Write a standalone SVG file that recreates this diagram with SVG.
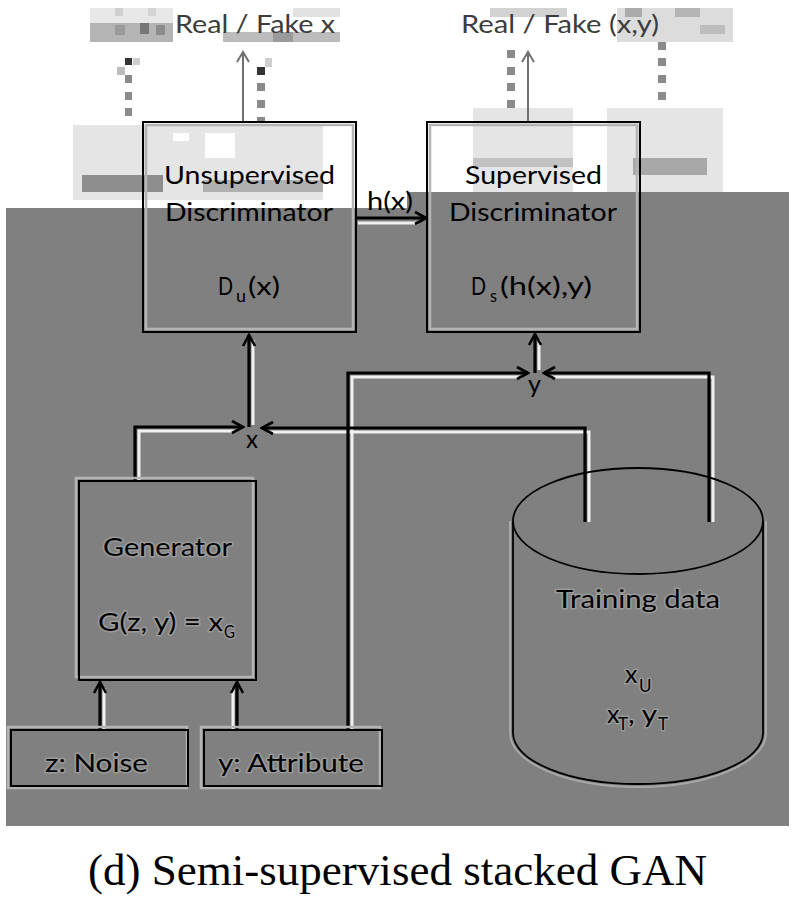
<svg xmlns="http://www.w3.org/2000/svg" width="792" height="898" viewBox="0 0 792 898">
<style>
  .lbl{font-family:Lato,"Open Sans","Liberation Sans",sans-serif;font-size:25px;fill:#000}
  .top{fill:#3c3c3c}
  .sub{font-size:17px}
  .halo{stroke:#9a9a9a;stroke-width:3;paint-order:stroke;stroke-linejoin:round}
  .box{fill:none;stroke:#000;stroke-width:2}
  .boxhalo{fill:none;stroke:#b4b4b4;stroke-width:2.5}
  .wire{fill:none;stroke:#000;stroke-width:3.2}
  .shadow{fill:none;stroke:#f0f0f0;stroke-width:3}
  .thin{fill:none;stroke:#707070;stroke-width:2}
  .cap{font-family:"Liberation Serif","DejaVu Serif",serif;font-size:44px;fill:#000}
</style>
<defs>
  <marker id="ah" markerUnits="userSpaceOnUse" markerWidth="16" markerHeight="16" viewBox="0 0 16 16" refX="14" refY="8" orient="auto">
    <path d="M3,2 L14,8 L3,14" fill="none" stroke="#000" stroke-width="2.6"/>
  </marker>
  <marker id="ahg" markerUnits="userSpaceOnUse" markerWidth="16" markerHeight="16" viewBox="0 0 16 16" refX="14" refY="8" orient="auto">
    <path d="M4,2 L14,8 L4,14" fill="none" stroke="#707070" stroke-width="2"/>
  </marker>
</defs>

<rect x="0" y="0" width="792" height="898" fill="#fff"/>

<!-- pixel mosaic artefacts in the white area -->
<g id="mosaic">
  <rect x="90" y="8" width="83" height="15" fill="#e8e8e8"/>
  <rect x="115" y="8" width="8" height="8" fill="#cfcfcf"/>
  <rect x="148" y="8" width="8" height="8" fill="#d4d4d4"/>
  <rect x="90" y="23" width="83" height="19" fill="#b4b4b4"/>
  <rect x="115" y="25" width="10" height="10" fill="#999"/>
  <rect x="140" y="23" width="9" height="11" fill="#777"/>
  <rect x="156" y="25" width="9" height="10" fill="#8c8c8c"/>
  <rect x="223" y="32" width="117" height="10" fill="#bcbcbc"/>
  <rect x="273" y="32" width="20" height="10" fill="#9a9a9a"/>
  <rect x="293" y="8" width="47" height="9" fill="#e2e2e2"/>
  <rect x="125" y="58" width="7" height="7" fill="#333"/>
  <rect x="133" y="58" width="7" height="7" fill="#cfcfcf"/>
  <rect x="117" y="67" width="8" height="8" fill="#bdbdbd"/>
  <rect x="125" y="75" width="7" height="8" fill="#8a8a8a"/>
  <rect x="125" y="92" width="7" height="8" fill="#8a8a8a"/>
  <rect x="125" y="108" width="7" height="8" fill="#8a8a8a"/>
  <rect x="257" y="67" width="8" height="8" fill="#333"/>
  <rect x="265" y="58" width="7" height="9" fill="#cfcfcf"/>
  <rect x="257" y="83" width="8" height="8" fill="#8a8a8a"/>
  <rect x="257" y="100" width="8" height="8" fill="#8a8a8a"/>
  <rect x="257" y="117" width="8" height="6" fill="#8a8a8a"/>
  <rect x="73" y="125" width="250" height="75" fill="#e5e5e5"/>
  <rect x="173" y="133" width="16" height="8" fill="#fff"/>
  <rect x="205" y="133" width="30" height="25" fill="#fff"/>
  <rect x="82" y="175" width="81" height="17" fill="#8e8e8e"/>
  <rect x="203" y="180" width="120" height="12" fill="#b0b0b0"/>
  <rect x="490" y="8" width="77" height="9" fill="#d2d2d2"/>
  <rect x="617" y="8" width="116" height="34" fill="#dcdcdc"/>
  <rect x="625" y="8" width="17" height="9" fill="#aaa"/>
  <rect x="675" y="8" width="25" height="9" fill="#b5b5b5"/>
  <rect x="700" y="25" width="25" height="9" fill="#bdbdbd"/>
  <rect x="507" y="50" width="8" height="8" fill="#8a8a8a"/>
  <rect x="507" y="67" width="8" height="8" fill="#8a8a8a"/>
  <rect x="507" y="83" width="8" height="8" fill="#8a8a8a"/>
  <rect x="507" y="100" width="8" height="8" fill="#8a8a8a"/>
  <rect x="507" y="117" width="8" height="6" fill="#8a8a8a"/>
  <rect x="658" y="42" width="8" height="8" fill="#8a8a8a"/>
  <rect x="658" y="58" width="8" height="8" fill="#8a8a8a"/>
  <rect x="658" y="75" width="8" height="8" fill="#8a8a8a"/>
  <rect x="658" y="92" width="8" height="8" fill="#8a8a8a"/>
  <rect x="658" y="108" width="8" height="8" fill="#6a6a6a"/>
  <rect x="473" y="108" width="100" height="84" fill="#e5e5e5"/>
  <rect x="473" y="158" width="100" height="9" fill="#c2c2c2"/>
  <rect x="607" y="108" width="116" height="84" fill="#e5e5e5"/>
  <rect x="633" y="158" width="74" height="17" fill="#a8a8a8"/>
</g>

<!-- grey background -->
<path d="M6,208 H407 V192 H789 V826 H6 Z" fill="#808080"/>

<!-- connectors -->
<g id="connectors">
  <path class="shadow" d="M139,481 V431 H236"/>
  <path class="shadow" d="M589,522 V432 H268"/>
  <path class="shadow" d="M253,425 V340"/>
  <path class="shadow" d="M352,730 V377 H522"/>
  <path class="shadow" d="M713,522 V377 H550"/>
  <path class="shadow" d="M539,370 V340"/>
  <path class="shadow" d="M104,730 V688"/>
  <path class="shadow" d="M233,730 V688"/>
  <path class="shadow" d="M358,223 H418"/>

  <path class="wire" d="M135,481 V427 H243" marker-end="url(#ah)"/>
  <path class="wire" d="M585,522 V428 H262" marker-end="url(#ah)"/>
  <path class="wire" d="M249,427 V335" marker-end="url(#ah)"/>
  <path class="wire" d="M348,730 V373 H528" marker-end="url(#ah)"/>
  <path class="wire" d="M709,522 V373 H544" marker-end="url(#ah)"/>
  <path class="wire" d="M535,373 V334" marker-end="url(#ah)"/>
  <path class="wire" d="M100,730 V682" marker-end="url(#ah)"/>
  <path class="wire" d="M237,730 V682" marker-end="url(#ah)"/>
  <path class="wire" d="M356,218 H426" marker-end="url(#ah)"/>
  <path class="thin" d="M243,122 V52" marker-end="url(#ahg)"/>
  <path class="thin" d="M528,122 V52" marker-end="url(#ahg)"/>
</g>

<!-- output labels -->
<g id="outputs">
  <text class="lbl top" x="175" y="33" textLength="160" lengthAdjust="spacingAndGlyphs">Real / Fake x</text>
  <text class="lbl top" x="461" y="33" textLength="198" lengthAdjust="spacingAndGlyphs">Real / Fake (x,y)</text>
</g>

<g id="unsup-disc">
  <rect class="boxhalo" x="146" y="125" width="207" height="204"/>
  <rect class="box" x="143" y="122" width="213" height="210"/>
  <text class="lbl" x="164" y="184" textLength="171" lengthAdjust="spacingAndGlyphs">Unsupervised</text>
  <text class="lbl" x="165" y="221" textLength="168" lengthAdjust="spacingAndGlyphs">Discriminator</text>
  <text class="lbl" x="218" y="295" textLength="15" lengthAdjust="spacingAndGlyphs">D</text>
  <text class="lbl sub" x="236" y="302" textLength="10" lengthAdjust="spacingAndGlyphs">u</text>
  <text class="lbl" x="248" y="295" textLength="32" lengthAdjust="spacingAndGlyphs">(x)</text>
</g>

<g id="hx-label">
  <text class="lbl" x="367" y="210" textLength="46" lengthAdjust="spacingAndGlyphs">h(x)</text>
</g>

<g id="sup-disc">
  <rect class="boxhalo" x="430" y="125" width="207" height="204"/>
  <rect class="box" x="427" y="122" width="213" height="210"/>
  <text class="lbl" x="465" y="184" textLength="137" lengthAdjust="spacingAndGlyphs">Supervised</text>
  <text class="lbl" x="449" y="221" textLength="168" lengthAdjust="spacingAndGlyphs">Discriminator</text>
  <text class="lbl" x="471" y="295" textLength="15" lengthAdjust="spacingAndGlyphs">D</text>
  <text class="lbl sub" x="490" y="302" textLength="7" lengthAdjust="spacingAndGlyphs">s</text>
  <text class="lbl" x="500" y="295" textLength="92" lengthAdjust="spacingAndGlyphs">(h(x),y)</text>
</g>

<g id="x-junction">
  <text class="lbl" x="246" y="448" font-size="21" textLength="12" lengthAdjust="spacingAndGlyphs">x</text>
</g>
<g id="y-junction">
  <text class="lbl" x="528" y="393" font-size="21" textLength="13" lengthAdjust="spacingAndGlyphs">y</text>
</g>

<g id="generator">
  <rect class="boxhalo" x="76" y="478" width="177" height="199"/>
  <rect class="box" x="79" y="481" width="177" height="199"/>
  <text class="lbl halo" x="103" y="556" textLength="129" lengthAdjust="spacingAndGlyphs">Generator</text>
  <text class="lbl halo" x="98" y="631"><tspan textLength="125" lengthAdjust="spacingAndGlyphs">G(z, y) = x</tspan><tspan class="sub" x="224" y="638" textLength="11" lengthAdjust="spacingAndGlyphs">G</tspan></text>
</g>

<g id="noise">
  <rect class="boxhalo" x="8" y="727" width="179" height="61"/>
  <rect class="box" x="11" y="730" width="177" height="56"/>
  <text class="lbl halo" x="45" y="772" textLength="103" lengthAdjust="spacingAndGlyphs">z: Noise</text>
</g>

<g id="attribute">
  <rect class="boxhalo" x="201" y="727" width="179" height="61"/>
  <rect class="box" x="204" y="730" width="178" height="56"/>
  <text class="lbl halo" x="218" y="772" textLength="146" lengthAdjust="spacingAndGlyphs">y: Attribute</text>
</g>

<g id="training-data">
  <path d="M510,521 V733 A128,54 0 0 0 766,733 V521" fill="none" stroke="#a8a8a8" stroke-width="2"/>
  <ellipse cx="638" cy="521" rx="125" ry="53" fill="none" stroke="#000" stroke-width="1.8"/>
  <path d="M513,521 V733 A125,51 0 0 0 763,733 V521" fill="none" stroke="#000" stroke-width="1.8"/>
  <text class="lbl halo" x="556" y="608" textLength="164" lengthAdjust="spacingAndGlyphs">Training data</text>
  <text class="lbl halo" x="625" y="683">x<tspan class="sub" x="639" y="692">U</tspan></text>
  <text class="lbl halo" x="607" y="723">x<tspan class="sub" x="618" y="730">T</tspan><tspan x="628" y="723" textLength="29" lengthAdjust="spacingAndGlyphs">, y</tspan><tspan class="sub" x="658" y="730">T</tspan></text>
</g>

<text class="cap" x="88" y="885" textLength="619" lengthAdjust="spacingAndGlyphs">(d) Semi-supervised stacked GAN</text>
</svg>
